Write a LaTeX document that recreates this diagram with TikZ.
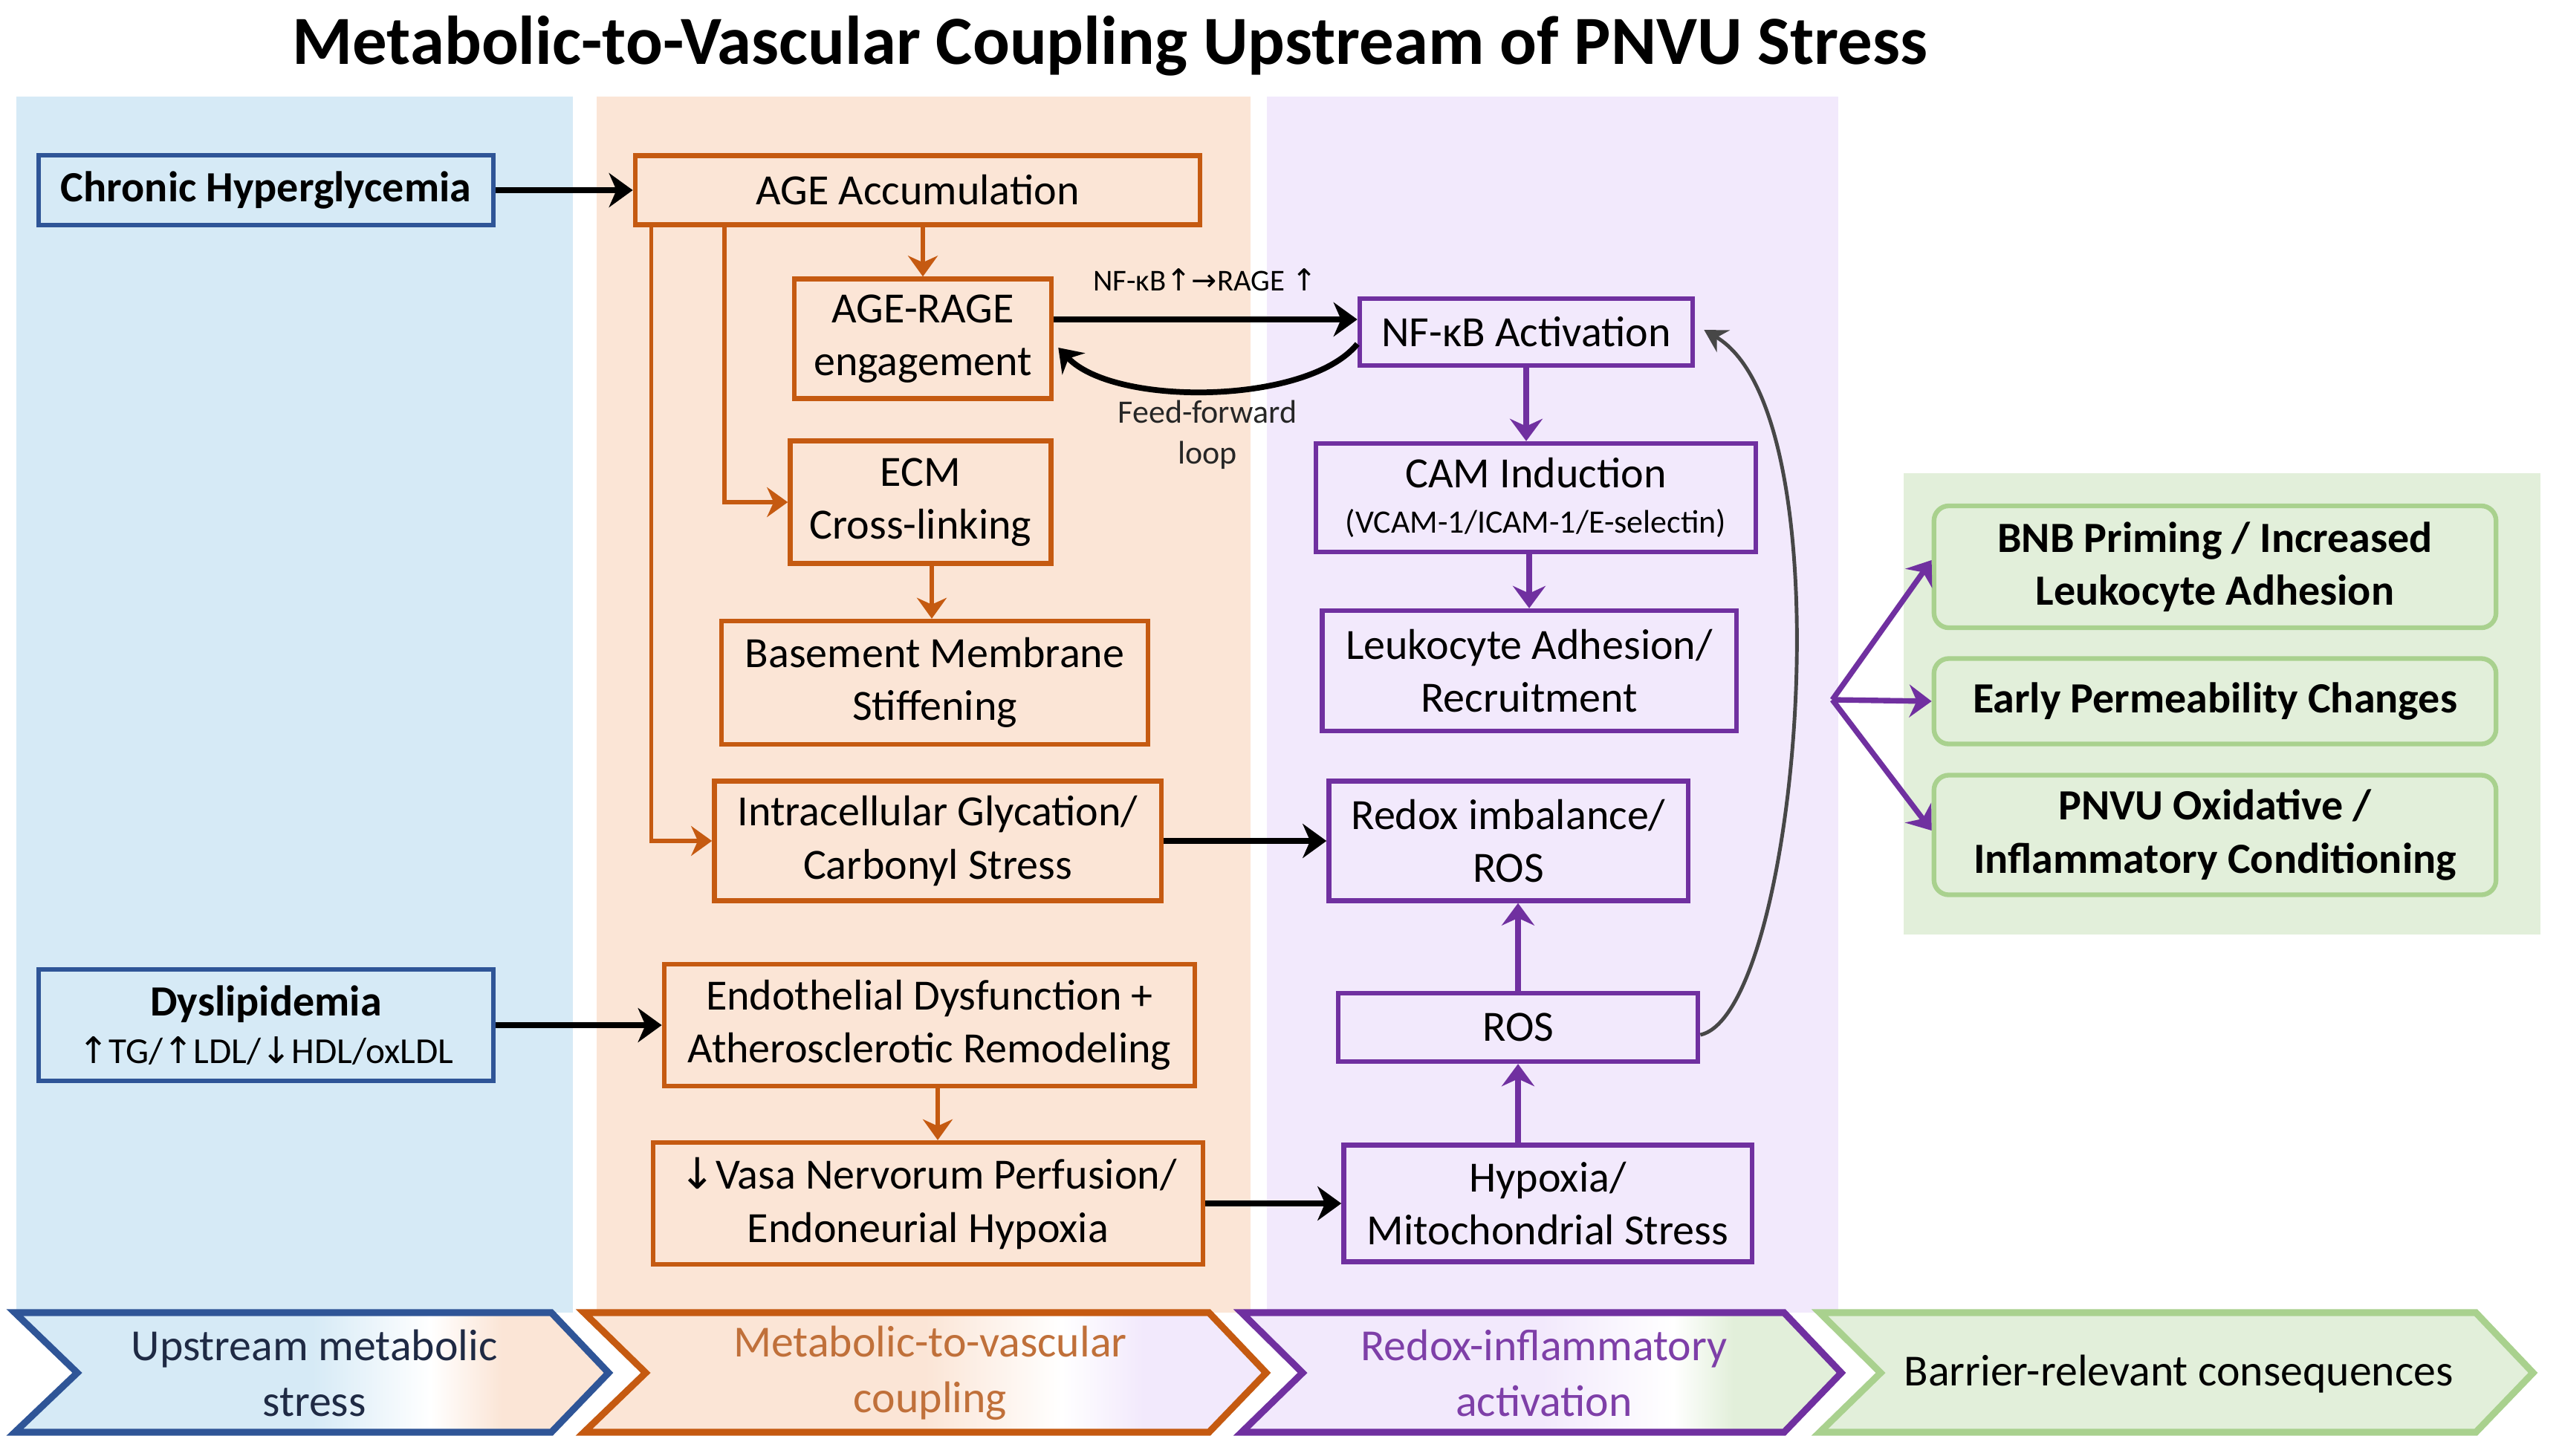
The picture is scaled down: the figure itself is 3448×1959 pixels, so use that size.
\documentclass[tikz,border=0pt]{standalone}
\usepackage{fontspec}
\setmainfont{Carlito}
\newfontfamily\arrfont{DejaVu Sans}
\usetikzlibrary{arrows.meta,calc}
\definecolor{cbg}{HTML}{D6EAF6}
\definecolor{obg}{HTML}{FBE5D6}
\definecolor{pbg}{HTML}{F2E9FC}
\definecolor{gbg}{HTML}{E2EFDA}
\definecolor{cblue}{HTML}{2F5597}
\definecolor{corange}{HTML}{C55A11}
\definecolor{cpurple}{HTML}{7030A0}
\definecolor{cgreen}{HTML}{A9D18E}
\definecolor{tnavy}{HTML}{1F2A44}
\definecolor{torange}{HTML}{C0703A}
\definecolor{tpurple}{HTML}{7E3FA8}
\pgfdeclarehorizontalshading{chevBO}{100bp}{color(0bp)=(cbg); color(50bp)=(cbg); color(60bp)=(white); color(66bp)=(obg); color(100bp)=(obg)}
\pgfdeclarehorizontalshading{chevOP}{100bp}{color(0bp)=(obg); color(50bp)=(obg); color(60bp)=(white); color(66bp)=(pbg); color(100bp)=(pbg)}
\pgfdeclarehorizontalshading{chevPG}{100bp}{color(0bp)=(pbg); color(50bp)=(pbg); color(61bp)=(white); color(66bp)=(gbg); color(100bp)=(gbg)}
\newcommand\bxfont{\fontsize{16.5}{20.2}\selectfont}
\newcommand\upa{{\arrfont ↑}}
\newcommand\dna{{\arrfont ↓}}
\newcommand\rta{{\arrfont →}}
\begin{document}
\begin{tikzpicture}[x=0.01cm,y=-0.01cm,
  bx/.style={draw, line width=1.8pt, inner sep=0pt, align=center, font=\bxfont},
  bluebx/.style={bx, draw=cblue, fill=cbg},
  orbx/.style={bx, draw=corange, fill=obg},
  pubx/.style={bx, draw=cpurple, fill=pbg},
  grbx/.style={bx, draw=cgreen, fill=gbg, rounded corners=0.2cm, font=\bxfont\bfseries},
  blk/.style={draw=black, line width=2.2pt, -{Stealth[length=0.32cm,width=0.46cm,inset=0.1cm]}},
  ora/.style={draw=corange, line width=1.6pt, -{Stealth[length=0.28cm,width=0.4cm,inset=0.09cm]}},
  pur/.style={draw=cpurple, line width=2.1pt, -{Stealth[length=0.3cm,width=0.44cm,inset=0.1cm]}},
  chev/.style={line width=2.6pt, miter limit=10},
  chevtxt/.style={align=center, font=\fontsize{17}{21.3}\selectfont}
]
\useasboundingbox (0,0) rectangle (3448,1959);
\fill[white] (0,0) rectangle (3448,1959);
% column backgrounds
\fill[cbg] (22,130) rectangle (771,1767);
\fill[obg] (803,130) rectangle (1683,1767);
\fill[pbg] (1705,130) rectangle (2474,1767);
\fill[gbg] (2562,637) rectangle (3419,1258);
% title
\node[font=\fontsize{26.4}{30}\selectfont\bfseries] (title) at (1494,62) {Metabolic-to-Vascular Coupling Upstream of PNVU Stress};
% chevrons
\path[chev, draw=cblue, shading=chevBO] (20,1767) -- (742,1767) -- (819,1848) -- (742,1928) -- (20,1928) -- (104,1848) -- cycle;
\path[chev, draw=corange, shading=chevOP] (786,1767) -- (1627,1767) -- (1704,1848) -- (1627,1928) -- (786,1928) -- (869,1848) -- cycle;
\path[chev, draw=cpurple, shading=chevPG] (1671,1767) -- (2401,1767) -- (2478,1848) -- (2401,1928) -- (1671,1928) -- (1753,1848) -- cycle;
\path[chev, draw=cgreen, fill=gbg] (2449,1767) -- (3332,1767) -- (3409,1848) -- (3332,1928) -- (2449,1928) -- (2531,1848) -- cycle;
\node[chevtxt, text=tnavy] (c1) at (423,1848) {Upstream metabolic\\stress};
\node[chevtxt, text=torange] (c2) at (1252,1848) {Metabolic-to-vascular\\coupling};
\node[chevtxt, text=tpurple] (c3) at (2078,1848) {Redox-inflammatory\\activation};
\node[chevtxt, text=black] (c4) at (2932,1850) {Barrier-relevant consequences};
% left column
\node[bluebx, minimum width=6.12cm, minimum height=0.94cm, font=\bxfont\bfseries] (chronic) at (358,256) {Chronic Hyperglycemia};
\node[bluebx, minimum width=6.12cm, minimum height=1.5cm] (dys) at (358,1380) {\textbf{Dyslipidemia}\\[-2pt]{\fontsize{14}{17}\selectfont\upa TG/\upa LDL/\dna HDL/oxLDL}};
% orange column
\node[orbx, minimum width=7.6cm, minimum height=0.93cm] (age) at (1235,256) {AGE Accumulation};
\node[orbx, minimum width=3.46cm, minimum height=1.61cm] (agerage) at (1242,456) {AGE-RAGE\\engagement};
\node[orbx, minimum width=3.51cm, minimum height=1.65cm] (ecm) at (1239,676) {ECM\\Cross-linking};
\node[orbx, minimum width=5.74cm, minimum height=1.66cm] (bm) at (1258,919) {Basement Membrane\\Stiffening};
\node[orbx, minimum width=6.01cm, minimum height=1.61cm] (intra) at (1262,1132) {Intracellular Glycation/\\Carbonyl Stress};
\node[orbx, minimum width=7.14cm, minimum height=1.64cm] (endo) at (1251,1380) {Endothelial Dysfunction +\\Atherosclerotic Remodeling};
\node[orbx, minimum width=7.4cm, minimum height=1.64cm] (vasa) at (1249,1620) {\dna Vasa Nervorum Perfusion/\\Endoneurial Hypoxia};
% purple column
\node[pubx, minimum width=4.48cm, minimum height=0.9cm] (nfkb) at (2054,447) {NF-κB Activation};
\node[pubx, minimum width=5.92cm, minimum height=1.46cm] (cam) at (2067,670) {CAM Induction\\[-3pt]{\fontsize{12.5}{15}\selectfont (VCAM-1/ICAM-1/E-selectin)}};
\node[pubx, minimum width=5.57cm, minimum height=1.62cm] (leuk) at (2058,903) {Leukocyte Adhesion/\\Recruitment};
\node[pubx, minimum width=4.83cm, minimum height=1.61cm] (redox) at (2030,1132) {Redox imbalance/\\ROS};
\node[pubx, minimum width=4.84cm, minimum height=0.92cm] (ros) at (2043,1383) {ROS};
\node[pubx, minimum width=5.49cm, minimum height=1.57cm] (hyp) at (2083,1620) {Hypoxia/\\Mitochondrial Stress};
% green boxes
\node[grbx, minimum width=7.56cm, minimum height=1.64cm] (bnb) at (2981,763) {BNB Priming / Increased\\Leukocyte Adhesion};
\node[grbx, minimum width=7.56cm, minimum height=1.15cm] (early) at (2981,944) {Early Permeability Changes};
\node[grbx, minimum width=7.56cm, minimum height=1.61cm] (pnvu) at (2981,1124) {PNVU Oxidative /\\Inflammatory Conditioning};
% labels
\node[font=\fontsize{11.6}{14}\selectfont] (lblnf) at (1622,377) {NF-κB\upa\rta RAGE \upa};
\node[font=\fontsize{12.5}{15.6}\selectfont, align=center, text=black!85] (lblff) at (1625,585) {Feed-forward\\loop};
% black connectors
\draw[blk] (chronic.east) -- (age.west);
\draw[blk] (dys.east) -- (endo.west);
\coordinate (arstart) at ($(agerage.east)+(0,-26)$);
\draw[blk] (arstart) -- (arstart -| nfkb.west);
\draw[blk] (intra.east) -- (redox.west);
\draw[blk] (vasa.east) -- (hyp.west);
\draw[draw=black, line width=2.2pt, -{Stealth[length=0.3cm,width=0.42cm,inset=0.1cm]}]
  ($(nfkb.west)+(0,16)$) .. controls (1760,545) and (1500,548) .. ($(agerage.east)+(6,12)$);
\draw[draw=black!72, line width=1.4pt, -{Stealth[length=0.3cm,width=0.34cm,inset=0.1cm]}]
  ($(ros.east)+(0,10)$) .. controls (2420,1365) and (2490,560) .. ($(nfkb.east)+(12,-3)$);
% orange connectors
\draw[ora] (agerage.north |- age.south) -- (agerage.north);
\draw[ora] ([xshift=1.23cm]age.south west) |- (ecm.west);
\draw[ora] ([xshift=0.25cm]age.south west) |- (intra.west);
\draw[ora] (ecm.south -| 1254,0) -- (bm.north -| 1254,0);
\draw[ora] (endo.south -| 1262,0) -- (vasa.north -| 1262,0);
% purple connectors
\draw[pur] (nfkb.south) -- (nfkb.south |- cam.north);
\draw[pur] (leuk.north |- cam.south) -- (leuk.north);
\draw[pur] (ros.north) -- (ros.north |- redox.south);
\draw[pur] (ros.south |- hyp.north) -- (ros.south);
\coordinate (fan) at (2466,942);
\draw[pur] (fan) -- ($(bnb.west)+(0,-9)$);
\draw[pur] (fan) -- (early.west);
\draw[pur] (fan) -- ($(pnvu.west)+(0,-6)$);
\end{tikzpicture}
\end{document}
